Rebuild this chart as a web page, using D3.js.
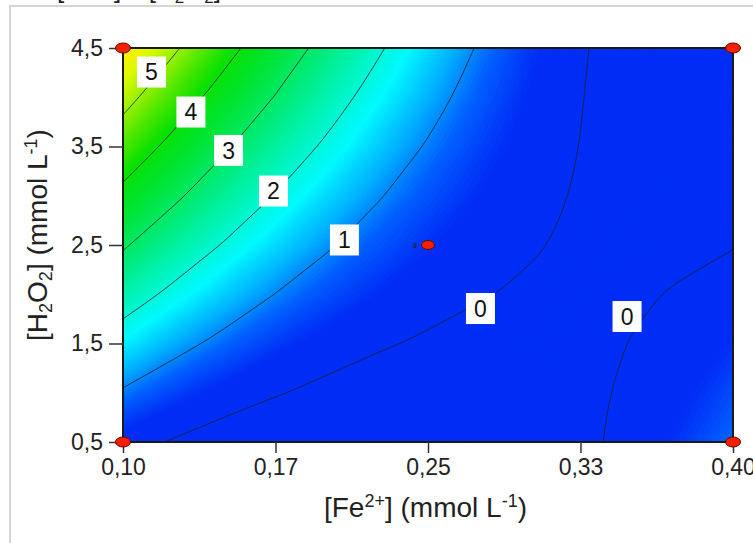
<!DOCTYPE html>
<html><head><meta charset="utf-8">
<script src="https://cdn.jsdelivr.net/npm/d3@7"></script>
<style>
body{margin:0;background:#fff;}
svg{display:block;font-family:Arial,"Liberation Sans",sans-serif;}
</style>
</head><body>
<svg id="chart" width="753" height="543"></svg>
<script>
// ---------- data ----------
const feValues   = [0.100,0.125,0.150,0.175,0.200,0.225,0.250,0.275,0.300,0.325,0.350,0.375,0.400];
const h2o2Values = [0.5,1.0,1.5,2.0,2.5,3.0,3.5,4.0,4.5];
const responseGrid = [
  [0.23,-0.05,-0.28,-0.44,-0.54,-0.57,-0.55,-0.47,-0.32,-0.12, 0.15, 0.48, 0.87],
  [0.93, 0.57, 0.27, 0.04,-0.14,-0.26,-0.31,-0.31,-0.24,-0.11, 0.08, 0.33, 0.64],
  [1.64, 1.20, 0.83, 0.51, 0.26, 0.06,-0.07,-0.14,-0.15,-0.10, 0.01, 0.18, 0.42],
  [2.36, 1.84, 1.39, 0.99, 0.66, 0.39, 0.18, 0.03,-0.06,-0.09,-0.05, 0.04, 0.20],
  [3.08, 2.48, 1.95, 1.48, 1.07, 0.72, 0.43, 0.20, 0.04,-0.07,-0.11,-0.09,-0.02],
  [3.80, 3.13, 2.52, 1.97, 1.48, 1.05, 0.69, 0.38, 0.14,-0.04,-0.17,-0.23,-0.22],
  [4.53, 3.78, 3.09, 2.46, 1.90, 1.39, 0.95, 0.57, 0.25,-0.01,-0.21,-0.35,-0.43],
  [5.26, 4.44, 3.67, 2.97, 2.32, 1.74, 1.22, 0.76, 0.36, 0.02,-0.26,-0.47,-0.63],
  [6.00, 5.10, 4.25, 3.47, 2.75, 2.09, 1.49, 0.95, 0.48, 0.06,-0.30,-0.59,-0.82]
];
const contourLevels = [0,1,2,3,4,5];
const labelText  = ["5","4","3","2","1","0","0"];
const labelFe    = [0.114,0.1334,0.1519,0.174,0.2089,0.2758,0.3479];
const labelH2O2  = [4.256,3.85,3.46,3.048,2.551,1.855,1.774];
const designFe   = [0.10,0.40,0.10,0.40,0.25];
const designH2O2 = [4.5,4.5,0.5,0.5,2.5];
const centerReplicates = "3";
const feTicks = [0.10,0.175,0.25,0.325,0.40];
const feTickLabels = ["0,10","0,17","0,25","0,33","0,40"];
const h2o2Ticks = [0.5,1.5,2.5,3.5,4.5];
const h2o2TickLabels = ["0,5","1,5","2,5","3,5","4,5"];
const colorStopValues = [0.40,0.80,1.20,1.70,2.20,2.80,3.50,4.10,4.50,5.00,5.50,5.90,6.10];
const colorStopColors = ["rgb(0,45,245)","rgb(0,95,255)","rgb(0,175,255)","rgb(0,250,255)",
  "rgb(0,245,190)","rgb(0,235,120)","rgb(0,228,50)","rgb(10,225,0)","rgb(70,230,0)",
  "rgb(150,240,0)","rgb(220,250,0)","rgb(255,240,0)","rgb(255,130,0)"];

// ---------- layout ----------
const svg = d3.select("#chart");
const x = d3.scaleLinear().domain([0.10,0.40]).range([123,733]);
const y = d3.scaleLinear().domain([0.5,4.5]).range([442,48]);
const nx = feValues.length, ny = h2o2Values.length;
const gx = d3.scaleLinear().domain([0.5,nx-0.5]).range([feValues[0],feValues[nx-1]]);
const gy = d3.scaleLinear().domain([0.5,ny-0.5]).range([h2o2Values[0],h2o2Values[ny-1]]);
const color = d3.scaleLinear().domain(colorStopValues).range(colorStopColors).clamp(true);
const flat = responseGrid.flat();

// page border + cut off heading
svg.append("path").attr("d","M10,543V6H753").attr("fill","none").attr("stroke","#c8c8c8").attr("stroke-width",1.5);
const head = svg.append("text").attr("x",57).attr("y",-2.5).attr("font-size",26).attr("fill","#222");
head.append("tspan").text("[Fe");
head.append("tspan").attr("font-size",17).attr("dy",-9).text("2+");
head.append("tspan").attr("dy",9).text("] x [H");
head.append("tspan").attr("font-size",17).attr("dy",5.5).text("2");
head.append("tspan").attr("dy",-5.5).text("O");
head.append("tspan").attr("font-size",17).attr("dy",5.5).text("2");
head.append("tspan").attr("dy",-5.5).text("]");

// clip
svg.append("defs").append("clipPath").attr("id","plotclip")
  .append("rect").attr("x",x(0.10)).attr("y",y(4.5)).attr("width",x(0.40)-x(0.10)).attr("height",y(0.5)-y(4.5));

const proj = d3.geoTransform({point(px,py){ this.stream.point(x(gx(px)), y(gy(py))); }});
const path = d3.geoPath(proj);

const plot = svg.append("g").attr("clip-path","url(#plotclip)");
const zMin = d3.min(flat), zMax = d3.max(flat);
const step = 0.04;
plot.append("rect").attr("x",x(0.10)).attr("y",y(4.5)).attr("width",x(0.40)-x(0.10)).attr("height",y(0.5)-y(4.5))
  .attr("fill",color(zMin));
const fillThresholds = d3.range(Math.floor(zMin/step)*step + step, zMax, step);
const bands = d3.contours().size([nx,ny]).thresholds(fillThresholds)(flat);
plot.selectAll("path.band").data(bands).join("path").attr("class","band")
  .attr("d",path).attr("fill",d=>color(d.value+step/2)).attr("stroke",d=>color(d.value+step/2)).attr("stroke-width",0.6);

// contour lines
const lineGen = d3.line().x(p=>x(gx(p[0]))).y(p=>y(gy(p[1]))).curve(d3.curveBasis);
const isOut = p => p[0] <= 1e-9 || p[0] >= nx-1e-9 || p[1] <= 1e-9 || p[1] >= ny-1e-9;
const lines = d3.contours().size([nx,ny]).thresholds(contourLevels)(flat);
lines.forEach(c => {
  c.coordinates.forEach(poly => poly.forEach(ring => {
    const k = ring.findIndex(isOut);
    if (k < 0) { plot.append("path").attr("d", d3.line().x(p=>x(gx(p[0]))).y(p=>y(gy(p[1]))).curve(d3.curveBasisClosed)(ring.slice(0,-1)))
      .attr("fill","none").attr("stroke","#14202a").attr("stroke-opacity",0.8).attr("stroke-width",1); return; }
    const r = ring.slice(k).concat(ring.slice(0,k));
    let cur = [];
    const segs = [];
    r.forEach(p => { if (isOut(p)) { if (cur.length>1) segs.push(cur); cur = []; } else cur.push(p); });
    if (cur.length>1) segs.push(cur);
    segs.forEach(s => plot.append("path").attr("d",lineGen(s)).attr("fill","none")
      .attr("stroke","#14202a").attr("stroke-opacity",0.8).attr("stroke-width",1));
  }));
});

// contour labels
const lab = svg.append("g");
labelText.forEach((t,i) => {
  const cx = x(labelFe[i]), cy = y(labelH2O2[i]);
  lab.append("rect").attr("x",cx-14.5).attr("y",cy-15.5).attr("width",29).attr("height",31).attr("fill","#fff");
  lab.append("text").attr("x",cx).attr("y",cy).attr("dy","0.36em").attr("text-anchor","middle")
    .attr("font-size",23).attr("fill","#111").text(t);
});

// frame
svg.append("rect").attr("x",x(0.10)).attr("y",y(4.5)).attr("width",x(0.40)-x(0.10)).attr("height",y(0.5)-y(4.5))
  .attr("fill","none").attr("stroke","#1a1a1a").attr("stroke-width",2);

// axes
const ax = svg.append("g").attr("transform",`translate(0,${y(0.5)})`)
  .call(d3.axisBottom(x).tickValues(feTicks).tickFormat((d,i)=>feTickLabels[i]).tickSize(11).tickPadding(6));
ax.select(".domain").remove();
ax.selectAll("line").attr("stroke","#333").attr("stroke-width",1.5);
ax.selectAll("text").attr("font-size",23).attr("fill","#222").attr("font-family","Arial, 'Liberation Sans', sans-serif");

const ay = svg.append("g").attr("transform",`translate(${x(0.10)},0)`)
  .call(d3.axisLeft(y).tickValues(h2o2Ticks).tickFormat((d,i)=>h2o2TickLabels[i]).tickSize(14).tickPadding(6));
ay.select(".domain").remove();
ay.selectAll("line").attr("stroke","#333").attr("stroke-width",1.5);
ay.selectAll("text").attr("font-size",23).attr("fill","#222").attr("font-family","Arial, 'Liberation Sans', sans-serif");

// axis titles
const xt = svg.append("text").attr("x",425.5).attr("y",517).attr("text-anchor","middle").attr("font-size",28).attr("fill","#222");
xt.append("tspan").text("[Fe");
xt.append("tspan").attr("font-size",18).attr("dy",-10).text("2+");
xt.append("tspan").attr("dy",10).text("] (mmol L");
xt.append("tspan").attr("font-size",18).attr("dy",-10).text("-1");
xt.append("tspan").attr("dy",10).text(")");

const yt = svg.append("text").attr("transform","translate(47,235) rotate(-90)").attr("text-anchor","middle").attr("font-size",28).attr("fill","#222");
yt.append("tspan").text("[H");
yt.append("tspan").attr("font-size",18).attr("dy",5).text("2");
yt.append("tspan").attr("dy",-5).text("O");
yt.append("tspan").attr("font-size",18).attr("dy",5).text("2");
yt.append("tspan").attr("dy",-5).text("] (mmol L");
yt.append("tspan").attr("font-size",18).attr("dy",-10).text("-1");
yt.append("tspan").attr("dy",10).text(")");

// design points
designFe.forEach((f,i) => {
  const isCenter = i === designFe.length-1;
  svg.append("ellipse").attr("cx",x(f)).attr("cy",y(designH2O2[i]))
    .attr("rx",isCenter?6.5:7.5).attr("ry",isCenter?4.5:5)
    .attr("fill","#f42000").attr("stroke","#5a0a00").attr("stroke-width",1);
});
svg.append("text").attr("x",x(designFe[4])-13).attr("y",y(designH2O2[4])).attr("dy","0.35em")
  .attr("text-anchor","middle").attr("font-size",8).attr("font-weight","bold").attr("fill","#223").text(centerReplicates);
</script>
</body></html>
